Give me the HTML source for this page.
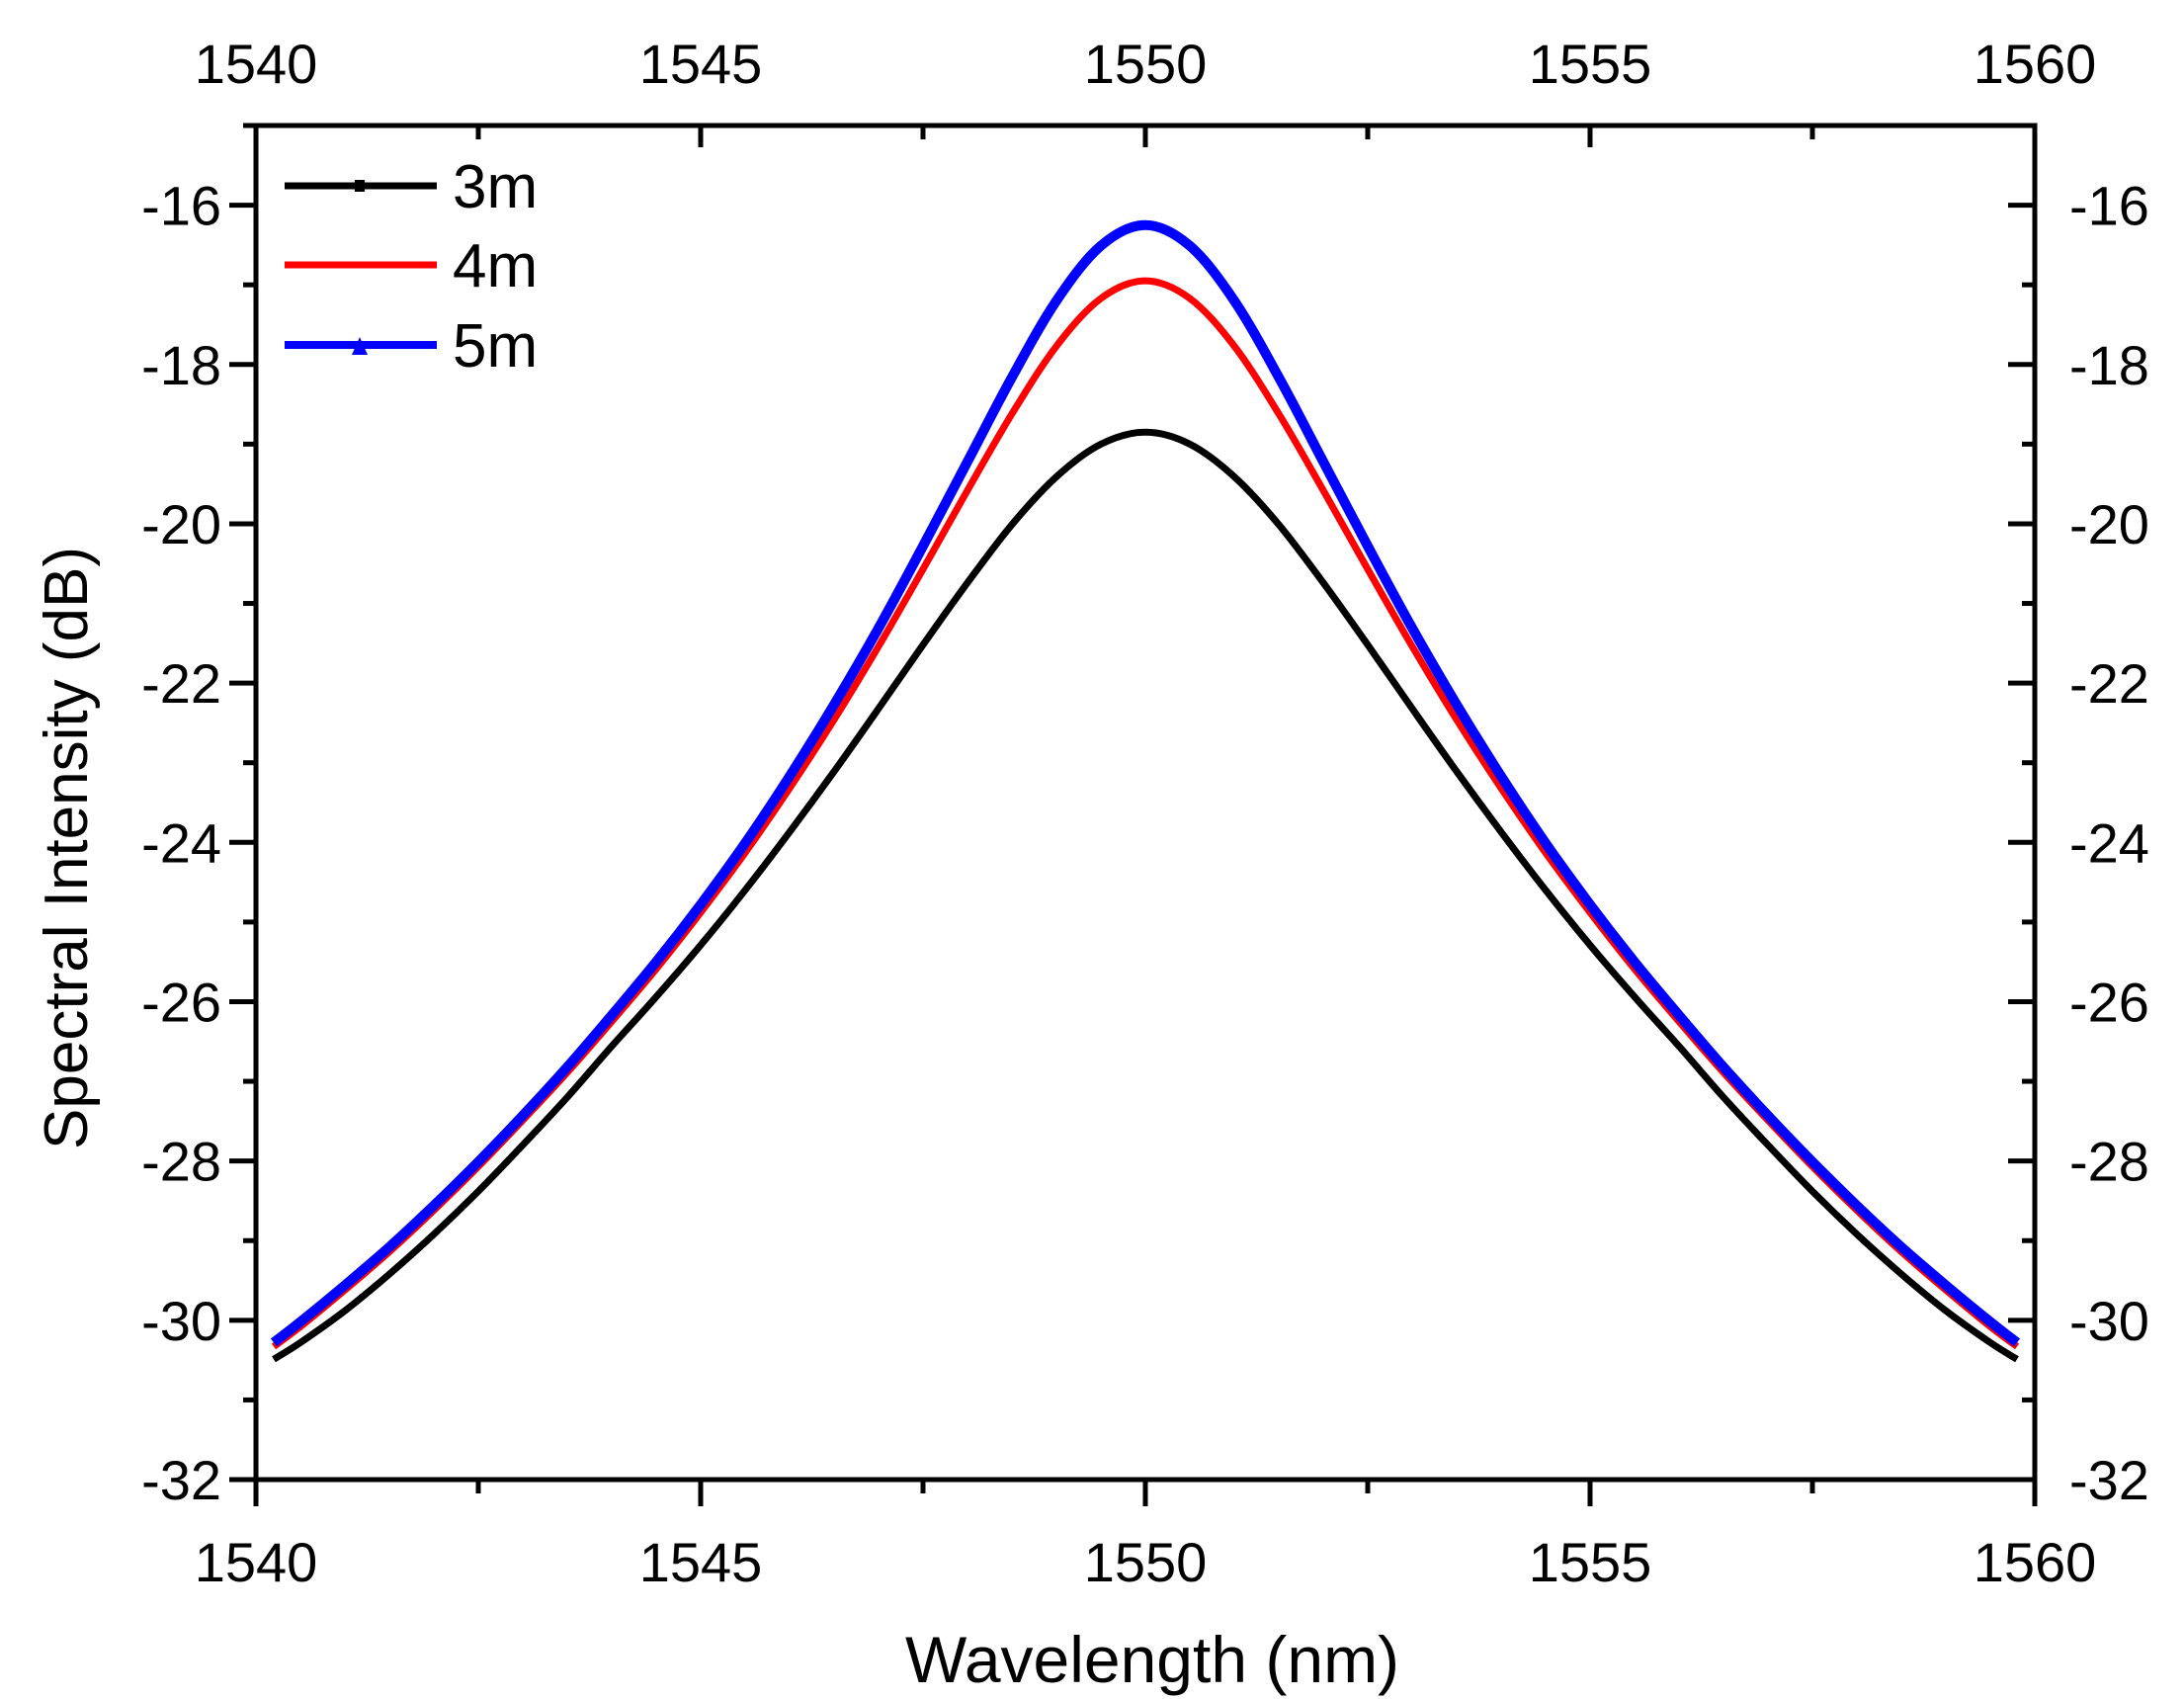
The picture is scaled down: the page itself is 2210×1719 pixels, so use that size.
<!DOCTYPE html>
<html><head><meta charset="utf-8"><style>
html,body{margin:0;padding:0;background:#fff;}
svg{display:block;font-family:"Liberation Sans",Arial,sans-serif;}
</style></head><body>
<svg id="chart" width="2210" height="1719" viewBox="0 0 2210 1719" xmlns="http://www.w3.org/2000/svg">
<rect x="0" y="0" width="2210" height="1719" fill="#fff"/>
<g id="series"></g>
<g id="axes"></g>
<g id="legend"></g>
<text x="1166" y="1702" font-size="66" text-anchor="middle">Wavelength (nm)</text>
<text x="0" y="0" font-size="62" text-anchor="middle" transform="translate(88,858) rotate(-90)">Spectral Intensity (dB)</text>
</svg>
<script>
const wavelengths = [1540.2,1540.5,1541,1541.5,1542,1542.5,1543,1543.5,1544,1544.5,1545,1545.5,1546,1546.5,1547,1547.5,1548,1548.5,1549,1549.5,1550,1550.5,1551,1551.5,1552,1552.5,1553,1553.5,1554,1554.5,1555,1555.5,1556,1556.5,1557,1557.5,1558,1558.5,1559,1559.5,1559.8];
const series3m = [-30.49,-30.28,-29.88,-29.42,-28.92,-28.38,-27.80,-27.20,-26.56,-25.94,-25.29,-24.60,-23.87,-23.11,-22.32,-21.52,-20.74,-20.01,-19.41,-19.00,-18.85,-19.00,-19.41,-20.01,-20.74,-21.52,-22.32,-23.11,-23.87,-24.60,-25.29,-25.94,-26.56,-27.20,-27.80,-28.38,-28.92,-29.42,-29.88,-30.28,-30.49];
const series4m = [-30.33,-30.08,-29.62,-29.14,-28.62,-28.07,-27.49,-26.89,-26.25,-25.59,-24.88,-24.13,-23.32,-22.46,-21.54,-20.57,-19.58,-18.62,-17.77,-17.17,-16.95,-17.17,-17.77,-18.62,-19.58,-20.57,-21.54,-22.46,-23.32,-24.13,-24.88,-25.59,-26.25,-26.89,-27.49,-28.07,-28.62,-29.14,-29.62,-30.08,-30.33];
const series5m = [-30.28,-30.02,-29.56,-29.08,-28.56,-28.01,-27.43,-26.82,-26.17,-25.50,-24.78,-24.01,-23.17,-22.27,-21.31,-20.28,-19.22,-18.16,-17.20,-16.51,-16.25,-16.51,-17.20,-18.16,-19.22,-20.28,-21.31,-22.27,-23.17,-24.01,-24.78,-25.50,-26.17,-26.82,-27.43,-28.01,-28.56,-29.08,-29.56,-30.02,-30.28];
const xTicks = [1540,1545,1550,1555,1560];
const yTicks = [-32,-30,-28,-26,-24,-22,-20,-18,-16];
const seriesNames = ["3m","4m","5m"];

const NS="http://www.w3.org/2000/svg";
const L=259,R=2059,T=127,B=1497,XMIN=1540,XMAX=1560,YMIN=-32,YMAX=-15;
function sx(v){return L+(v-XMIN)/(XMAX-XMIN)*(R-L);}
function sy(v){return B-(v-YMIN)/(YMAX-YMIN)*(B-T);}
function mk(tag,attrs,parent){const e=document.createElementNS(NS,tag);for(const k in attrs)e.setAttribute(k,attrs[k]);parent.appendChild(e);return e;}

const sg=document.getElementById('series');
const colors=["#000000","#ff0000","#0000ff"];
const widths=[7,7,10];
[series3m,series4m,series5m].forEach((s,i)=>{
  const pts=wavelengths.map((w,j)=>[sx(w),sy(s[j])]);
  let d="M"+pts[0][0]+","+pts[0][1];
  for(let j=0;j<pts.length-1;j++){
    const p0=pts[Math.max(0,j-1)],p1=pts[j],p2=pts[j+1],p3=pts[Math.min(pts.length-1,j+2)];
    const c1x=p1[0]+(p2[0]-p0[0])/6,c1y=p1[1]+(p2[1]-p0[1])/6;
    const c2x=p2[0]-(p3[0]-p1[0])/6,c2y=p2[1]-(p3[1]-p1[1])/6;
    d+=" C"+c1x.toFixed(1)+","+c1y.toFixed(1)+" "+c2x.toFixed(1)+","+c2y.toFixed(1)+" "+p2[0].toFixed(1)+","+p2[1].toFixed(1);
  }
  const p=mk('path',{d:d,fill:'none',stroke:colors[i],'stroke-width':widths[i],'stroke-linejoin':'round'},sg);
  
  
});

const ag=document.getElementById('axes');
const frame=mk('rect',{x:L,y:T,width:R-L,height:B-T,fill:'none',stroke:'#000','stroke-width':5},ag);


for(let v=XMIN;v<=XMAX+0.001;v+=2.5){
  const major=Math.abs(v%5)<0.001;
  const x=sx(v);
  mk('line',{x1:x,y1:B,x2:x,y2:B+(major?27:14),stroke:'#000','stroke-width':5},ag);
  mk('line',{x1:x,y1:T,x2:x,y2:T+(major?22:14),stroke:'#000','stroke-width':5},ag);
}
xTicks.forEach(v=>{
  const t=mk('text',{x:sx(v),y:1600,'font-size':56,'text-anchor':'middle'},ag);t.textContent=v;
  
  
  const t2=mk('text',{x:sx(v),y:84,'font-size':56,'text-anchor':'middle'},ag);t2.textContent=v;
  
  
});
for(let v=-32;v<=-15;v+=1){
  const major=(v%2===0);
  const y=sy(v);
  mk('line',{x1:L-(major?27:13),y1:y,x2:L,y2:y,stroke:'#000','stroke-width':5},ag);
  mk('line',{x1:R,y1:y,x2:R-(major?27:13),y2:y,stroke:'#000','stroke-width':5},ag);
}
yTicks.forEach(v=>{
  const t=mk('text',{x:224,y:sy(v)+20,'font-size':56,'text-anchor':'end'},ag);t.textContent=v;
  
  
  const t2=mk('text',{x:2094,y:sy(v)+20,'font-size':56,'text-anchor':'start'},ag);t2.textContent=v;
  
  
});

const lg=document.getElementById('legend');
const ly=[188,268,349];
seriesNames.forEach((n,i)=>{
  const ln=mk('line',{x1:288,y1:ly[i],x2:442,y2:ly[i],stroke:colors[i],'stroke-width':i===2?8:7},lg);
  
  
  if(i===0){mk('rect',{x:359,y:ly[i]-6,width:10,height:12,fill:'#000'},lg);}
  if(i===2){mk('path',{d:`M364,${ly[i]-8} L372,${ly[i]+10} L356,${ly[i]+10} Z`,fill:'#0000ff'},lg);}
  const t=mk('text',{x:458,y:ly[i]+22,'font-size':62},lg);t.textContent=n;
  
  
});
</script>
</body></html>
